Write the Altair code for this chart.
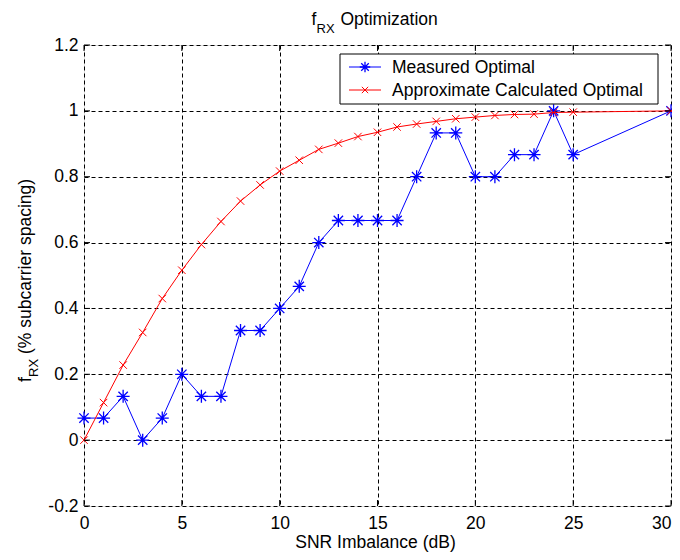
import altair as alt
import pandas as pd

# ---- data ----
snr = [0, 1, 2, 3, 4, 5, 6, 7, 8, 9, 10, 11, 12, 13, 14, 15, 16, 17, 18, 19,
       20, 21, 22, 23, 24, 25, 30]
measured = [0.067, 0.067, 0.133, 0.0, 0.067, 0.2, 0.133, 0.133, 0.333, 0.333,
            0.4, 0.467, 0.6, 0.667, 0.667, 0.667, 0.667, 0.8, 0.933, 0.933,
            0.8, 0.8, 0.867, 0.867, 1.0, 0.867, 1.0]
approx = [0.0, 0.114, 0.228, 0.327, 0.43, 0.516, 0.594, 0.664, 0.726, 0.775,
          0.817, 0.85, 0.883, 0.902, 0.922, 0.935, 0.951, 0.96, 0.968, 0.976,
          0.981, 0.986, 0.989, 0.99, 0.995, 0.996, 1.0]
x_ticks = [0, 5, 10, 15, 20, 25, 30]
y_ticks = [-0.2, 0, 0.2, 0.4, 0.6, 0.8, 1, 1.2]
series_names = ["Measured Optimal", "Approximate Calculated Optimal"]

W, H = 587, 461
FONT = "Liberation Sans"
FS = 17.5
SUB = 13
BLUE = "#0000ff"
RED = "#ff0000"
ASTERISK = "M-1,0L1,0M0,-1L0,1M-0.72,-0.72L0.72,0.72M-0.72,0.72L0.72,-0.72"
XMARK = "M-1,-1L1,1M-1,1L1,-1"

df = pd.DataFrame({"x": snr, "measured": measured, "approx": approx})

xscale = alt.Scale(domain=[0, 30], nice=False, zero=False)
yscale = alt.Scale(domain=[-0.2, 1.2], nice=False, zero=False)

xaxis = alt.Axis(values=x_ticks, ticks=False, domain=False, grid=True,
                 gridColor="black", gridDash=[4, 3], gridOpacity=1, gridWidth=1,
                 labelFont=FONT, labelFontSize=FS, labelColor="black",
                 labelPadding=8, labelFlush=False, labelOverlap=False,
                 labelAlign={"expr": "datum.value == 30 ? 'right' : 'center'"},
                 title=None)
yaxis = alt.Axis(values=y_ticks, ticks=False, domain=False, grid=True,
                 gridColor="black", gridDash=[4, 3], gridOpacity=1, gridWidth=1,
                 labelFont=FONT, labelFontSize=FS, labelColor="black",
                 labelPadding=6, labelFlush=False, labelOverlap=False,
                 labelExpr="datum.value + ''", title=None)

X = alt.X("x:Q", scale=xscale, axis=xaxis)

base = alt.Chart(df)
blue_line = base.mark_line(color=BLUE, strokeWidth=1).encode(
    x=X, y=alt.Y("measured:Q", scale=yscale, axis=yaxis))
blue_pts = base.mark_point(shape=ASTERISK, size=169, filled=False, color=BLUE,
                           strokeWidth=1.3, opacity=1).encode(
    x=X, y=alt.Y("measured:Q", scale=yscale, axis=yaxis))
red_line = base.mark_line(color=RED, strokeWidth=1).encode(
    x=X, y=alt.Y("approx:Q", scale=yscale, axis=yaxis))
red_pts = base.mark_point(shape=XMARK, size=56, filled=False, color=RED,
                          strokeWidth=1, opacity=1).encode(
    x=X, y=alt.Y("approx:Q", scale=yscale, axis=yaxis))

# inward ticks on all four sides
xt = alt.Chart(pd.DataFrame({"x": x_ticks}))
yt = alt.Chart(pd.DataFrame({"measured": y_ticks}))
TL = 6
ticks = [
    xt.mark_rule(color="black", strokeWidth=1).encode(x=X, y=alt.value(H), y2=alt.value(H - TL)),
    xt.mark_rule(color="black", strokeWidth=1).encode(x=X, y=alt.value(0), y2=alt.value(TL)),
    yt.mark_rule(color="black", strokeWidth=1).encode(
        y=alt.Y("measured:Q", scale=yscale, axis=yaxis), x=alt.value(0), x2=alt.value(TL)),
    yt.mark_rule(color="black", strokeWidth=1).encode(
        y=alt.Y("measured:Q", scale=yscale, axis=yaxis), x=alt.value(W), x2=alt.value(W - TL)),
]


def one(text="."):
    return alt.Chart(pd.DataFrame({"t": [text]}))


def label(text, x, y, size=FS, angle=0, align="left", baseline="alphabetic"):
    return one(text).mark_text(font=FONT, fontSize=size, color="black", angle=angle,
                               align=align, baseline=baseline).encode(
        x=alt.value(x), y=alt.value(y), text="t:N")


# legend
LX1 = W - 13
LX0 = LX1 - 318
LY0, LY1 = 9, 59
R1, R2 = 22, 45
SX0 = LX0 + 9
legend = [
    one().mark_rect(fill="white", stroke="black", strokeWidth=1).encode(
        x=alt.value(LX0), x2=alt.value(LX1), y=alt.value(LY0), y2=alt.value(LY1)),
    one().mark_rule(color=BLUE, strokeWidth=1).encode(
        x=alt.value(SX0), x2=alt.value(SX0 + 32), y=alt.value(R1)),
    one().mark_point(shape=ASTERISK, size=110, filled=False, color=BLUE,
                     strokeWidth=1.3, opacity=1).encode(x=alt.value(SX0 + 16), y=alt.value(R1)),
    one().mark_rule(color=RED, strokeWidth=1).encode(
        x=alt.value(SX0), x2=alt.value(SX0 + 32), y=alt.value(R2)),
    one().mark_point(shape=XMARK, size=40, filled=False, color=RED,
                     strokeWidth=1, opacity=1).encode(x=alt.value(SX0 + 16), y=alt.value(R2)),
    label(series_names[0], SX0 + 43, R1 + 1, baseline="middle"),
    label(series_names[1], SX0 + 43, R2 + 1, baseline="middle"),
]

# titles with subscripts
TX = W / 2 - 66
titles = [
    label("f", TX, -20),
    label("RX", TX + 5, -12, size=SUB),
    label("Optimization", TX + 29, -20),
    label("SNR Imbalance (dB)", W / 2 - 2, 503, align="center"),
    label("f", -53, 337, angle=270),
    label("RX", -46, 332, size=SUB, angle=270),
    label("(% subcarrier spacing)", -53, 309, angle=270),
]

chart = alt.layer(blue_line, blue_pts, red_line, red_pts, *ticks, *legend, *titles).properties(
    width=W, height=H,
    autosize=alt.AutoSizeParams(type="none"),
    padding={"left": 76, "top": 37, "right": 1, "bottom": 46},
).configure_view(stroke="black", strokeWidth=1).configure(background="white")

chart.save("out.html", embed_options={"renderer": "svg", "actions": False})
